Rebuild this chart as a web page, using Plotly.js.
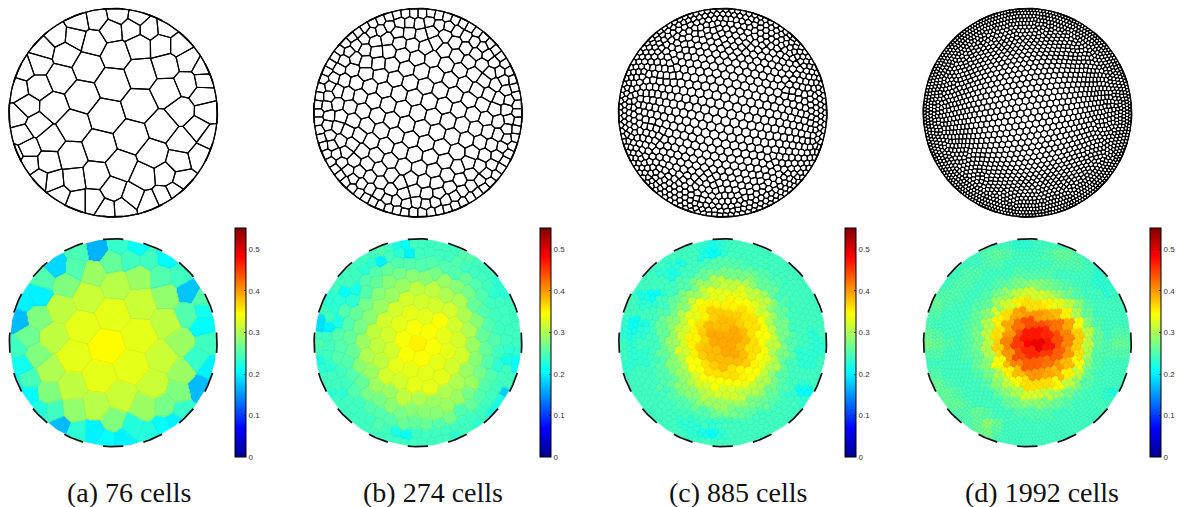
<!DOCTYPE html>
<html><head><meta charset="utf-8">
<script src="https://cdn.plot.ly/plotly-3.0.1.min.js"></script>
<style>html,body{margin:0;padding:0;background:#fff}</style></head>
<body><div id="chart" style="width:1177px;height:507px"></div>
<script>
const cellsAx=[262,338,425,245,420,320,218,395,298,490,462,545,503,180,158,348,280,197,485,500,418,225,170,128,115,72,115,52,80,50,110,65,148,85,145,85,213,118,162,220,288,365,432,497,537,547,600,548,595,628,622,610,563,612,610,565,540,500,447,395,415,335,355,290,235,340,398,448,493,525,370,318,282,230,178,42];
const cellsAy=[198,250,218,288,315,347,378,412,440,380,465,333,275,232,320,160,125,160,135,195,135,110,105,145,190,205,260,270,318,348,375,405,420,445,487,493,470,540,545,540,530,500,530,525,485,540,470,425,385,410,335,285,250,240,205,180,135,80,85,85,50,90,42,55,65,570,590,610,590,575,625,628,605,605,585,465];
const cellsAv=[.315,.33,.315,.33,.33,.345,.33,.33,.33,.315,.315,.29,.31,.31,.31,.305,.29,.275,.25,.285,.29,.25,.185,.25,.20,.20,.275,.17,.265,.24,.275,.215,.30,.245,.275,.205,.31,.225,.24,.285,.305,.315,.29,.27,.275,.235,.17,.29,.235,.20,.24,.205,.25,.215,.25,.175,.24,.205,.24,.24,.21,.26,.235,.165,.245,.275,.225,.225,.205,.20,.20,.21,.20,.23,.17,.21];
// Panels (b)-(d): the individual cells are too small to read one by one, so their POSITIONS ARE GENERATED,
// not read: seedsLaid() and relax() compute them from these estimates of the layout:
// outer rings (radius px, cells, offset deg), a hexagonal core, and the cell size seen at each radius.
// The cell totals match the captions; individual cells do not line up with the reference.
const ringsBr=[99,90];
const ringsBn=[74,58];
const ringsBp=[0,2];
const coreB={tilt:-15,radius:82,grade:0.3};
const sizeB=[17,15.5,12,8];
const ringsCr=[100.5,95.5,90.5,85];
const ringsCn=[110,105,98,90];
const ringsCp=[0,1,0,1];
const coreC={tilt:-10,radius:79,grade:0.4};
const sizeC=[10.5,9.5,6.2,3.3];
const ringsDr=[101.5,98.5,95,91.5,88];
const ringsDn=[200,190,180,170,160];
const ringsDp=[0,0.5,0,0.5,0];
const coreD={tilt:8,radius:84,grade:0.44};
const sizeD=[8,6.5,3.8,2];
const sizeRadii=[0,50,80,104];
const gridB=[
[24,24,24,24,24,24,24,24,22,21,24,24,24,24,24,24,24,24,24,24,24],
[24,24,24,24,24,24,25,24,23,20,24,24,24,24,24,25,24,24,24,24,24],
[24,24,24,24,24,23,20,24,25,25,25,25,25,25,25,24,24,24,24,24,24],
[24,24,24,24,24,23,25,26,27,28,28,28,27,26,25,25,24,24,24,24,24],
[24,24,24,24,24,25,26,28,29,29,29,29,29,29,28,26,25,24,23,24,24],
[24,23,22,21,22,25,28,29,30,31,31,31,31,30,29,27,25,24,23,23,24],
[24,23,23,23,25,27,29,30,31,32,32,32,32,31,30,29,26,24,24,24,24],
[24,24,24,25,26,28,30,31,32,33,33,33,32,32,31,30,27,25,24,24,24],
[19,20,22,25,27,29,30,32,33,34,34,34,34,33,32,30,28,25,24,24,24],
[24,24,25,26,28,30,31,32,34,34,34,34,34,33,32,30,28,26,24,24,24],
[25,24,25,27,29,30,31,33,34,35,35,35,34,33,32,31,29,26,25,24,24],
[24,24,25,26,28,30,31,32,34,34,35,34,34,33,32,30,28,26,24,23,23],
[22,23,24,25,28,29,31,32,33,34,34,34,33,32,31,30,28,25,23,22,21],
[23,24,24,25,26,29,30,32,33,33,33,33,33,32,31,29,27,25,24,24,24],
[24,24,24,24,26,28,29,31,32,32,33,33,32,31,30,29,27,25,24,24,24],
[24,23,23,24,25,27,28,29,30,31,31,31,31,30,29,27,25,24,20,18,24],
[24,24,24,24,24,25,27,28,29,29,30,30,29,29,28,26,24,24,22,24,24],
[24,24,24,24,24,24,25,26,27,28,28,28,28,27,25,24,24,22,24,24,24],
[24,24,24,24,24,24,25,25,25,26,26,26,25,25,24,24,23,24,24,24,24],
[24,24,24,24,24,24,24,24,22,21,24,24,24,24,23,24,24,24,24,24,24],
[24,24,24,24,24,24,24,24,24,24,24,24,24,24,24,24,24,24,24,24,24]];
const gridC=[
[24,24,24,24,24,24,24,24,23,22,23,24,24,24,24,24,24,24,24,24,24],
[24,24,24,24,24,24,24,24,22,21,23,24,24,24,24,24,24,24,24,24,24],
[24,24,24,24,24,23,22,24,24,25,25,25,25,24,24,24,24,24,24,24,24],
[24,24,24,24,23,22,24,24,26,27,27,27,27,26,25,24,24,24,24,24,24],
[24,24,24,24,24,24,25,27,29,30,31,31,30,28,26,25,24,24,24,24,24],
[24,24,22,21,23,24,27,29,31,33,33,33,33,31,29,26,24,24,24,24,24],
[24,24,23,23,24,26,28,31,34,35,35,35,34,33,31,28,25,24,24,24,24],
[24,24,24,24,25,27,30,33,35,37,37,37,36,35,32,29,26,24,24,24,24],
[23,21,22,24,26,28,31,34,36,38,38,38,37,36,34,30,27,24,24,24,24],
[23,22,23,24,26,29,32,35,37,39,39,39,38,36,34,31,27,25,24,23,24],
[24,23,24,24,26,29,32,35,37,39,39,39,38,36,34,31,27,25,24,23,23],
[24,23,23,24,26,28,32,35,37,38,39,39,38,36,34,30,27,25,23,23,23],
[23,23,23,24,25,28,30,34,36,37,38,38,37,35,33,30,26,24,23,23,24],
[23,24,24,24,25,27,29,32,34,36,36,36,35,34,31,28,25,24,24,24,24],
[24,24,24,24,25,26,28,30,32,34,34,34,33,31,30,27,25,24,23,24,24],
[24,24,24,24,24,25,27,28,30,31,32,32,31,30,28,26,24,23,21,21,24],
[24,24,24,24,24,24,25,26,28,29,29,29,28,27,26,25,24,24,23,24,24],
[24,24,24,24,24,24,24,24,25,26,27,27,26,25,24,24,24,24,24,24,24],
[24,24,24,24,24,24,23,23,24,23,24,24,24,24,24,24,24,24,24,24,24],
[24,24,24,24,24,24,24,23,22,21,23,24,24,24,24,24,24,24,24,24,24],
[24,24,24,24,24,24,24,24,24,24,24,24,24,24,24,24,24,24,24,24,24]];
const gridD=[
[24,24,24,24,24,24,24,24,24,23,23,24,24,24,24,24,24,24,24,24,24],
[24,24,24,24,24,24,25,26,25,24,24,24,25,26,26,25,24,24,24,24,24],
[24,24,24,24,24,24,25,25,24,24,24,24,24,25,25,25,24,24,24,24,24],
[24,24,24,24,25,25,24,24,24,25,25,25,25,24,24,24,24,23,24,24,24],
[24,24,24,25,25,24,24,25,26,27,28,28,27,26,25,24,24,23,23,24,24],
[24,25,25,25,24,24,25,27,29,31,32,32,31,29,27,25,24,24,23,24,24],
[25,26,25,24,24,25,26,29,32,35,36,36,35,33,31,28,25,24,24,24,24],
[25,25,24,24,24,26,28,32,36,39,40,40,39,38,35,30,26,24,24,24,24],
[25,24,24,24,25,26,30,35,39,42,44,44,43,42,39,34,28,25,24,24,24],
[26,25,24,24,25,27,31,36,40,44,47,47,46,44,41,37,31,26,24,25,25],
[27,26,25,24,25,27,31,37,41,45,48,49,47,44,41,37,31,26,25,26,26],
[25,25,24,24,25,26,30,36,40,44,46,46,45,43,40,36,30,25,25,25,25],
[24,24,24,24,24,26,28,34,38,41,43,43,42,40,38,34,28,25,24,24,24],
[25,25,24,24,24,25,27,30,35,38,40,40,39,38,35,31,26,24,24,24,24],
[26,26,25,24,24,24,25,28,31,34,36,36,36,34,31,28,25,24,24,24,24],
[24,26,26,25,24,24,24,26,28,30,32,32,31,29,27,25,24,24,23,22,24],
[24,24,26,26,25,24,24,24,26,27,28,28,27,26,25,24,24,24,24,24,24],
[24,24,24,25,25,26,25,24,24,25,25,25,25,24,24,24,24,24,25,24,24],
[24,24,24,24,25,26,28,26,24,24,24,24,24,24,24,24,24,24,24,24,24],
[24,24,24,24,25,26,27,25,24,24,24,24,24,24,24,24,24,24,24,24,24],
[24,24,24,24,24,24,24,24,24,24,24,24,24,24,24,24,24,24,24,24,24]];
const cellCounts=[76,274,885,1992];
const captions=["(a) 76 cells","(b) 274 cells","(c) 885 cells","(d) 1992 cells"];
const captionX=[129,433,739,1043];
const panelX=[113.3,418.3,723.3,1028.3];
const colorbarX=[235,540,845,1150];
const tickVals=[0,0.1,0.2,0.3,0.4,0.5];
const dashAngles=[0,22.5,45,67.5,90,112.5,135,157.5,180,202.5,225,247.5,270,292.5,315,337.5];
const jet=[[0,'#000090'],[0.125,'#0000ff'],[0.375,'#00ffff'],[0.625,'#ffff00'],[0.875,'#ff0000'],[1,'#800000']];

const R=104.2, HALF=112, W=1177, H=507, TOPY=112.7, BOTY=342.7;
function seedsFromA(){return cellsAx.map((X,i)=>({x:(X-340)/3,y:(338-cellsAy[i])/3,v:cellsAv[i]}));}
function sizeAt(r,sizes){
  for(let i=1;i<sizeRadii.length;i++) if(r<=sizeRadii[i]){const t=(r-sizeRadii[i-1])/(sizeRadii[i]-sizeRadii[i-1]);return sizes[i-1]+t*(sizes[i]-sizes[i-1]);}
  return sizes[sizes.length-1];
}
// Relax the starting layout so that cells settle at the sizes seen in the picture
function relax(pts,sizes,step,bin,iters){
  const samples=[];
  for(let y=-R+step/2;y<R;y+=step)for(let x=-R+step/2;x<R;x+=step){const r=Math.hypot(x,y);if(r<R){const h=sizeAt(r,sizes);samples.push([x,y,1/(h*h*h*h)]);}}
  const nb=Math.ceil(2*R/bin)+2, key=(v)=>Math.max(0,Math.min(nb-1,Math.floor((v+R)/bin)));
  for(let it=0;it<iters;it++){
    const bins=new Array(nb*nb);for(let i=0;i<bins.length;i++)bins[i]=[];
    pts.forEach((p,i)=>bins[key(p[1])*nb+key(p[0])].push(i));
    const sx=new Float64Array(pts.length),sy=new Float64Array(pts.length),sw=new Float64Array(pts.length);
    for(const [x,y,w] of samples){
      const cx=key(x),cy=key(y);let best=1e18,bi=-1;
      for(let b=Math.max(0,cy-1);b<=Math.min(nb-1,cy+1);b++)for(let a=Math.max(0,cx-1);a<=Math.min(nb-1,cx+1);a++){
        const list=bins[b*nb+a];
        for(let k=0;k<list.length;k++){const p=pts[list[k]],dx=p[0]-x,dy=p[1]-y,d=dx*dx+dy*dy;if(d<best){best=d;bi=list[k];}}
      }
      if(bi>=0){sx[bi]+=w*x;sy[bi]+=w*y;sw[bi]+=w;}
    }
    pts.forEach((p,i)=>{if(sw[i]>0){p[0]=sx[i]/sw[i];p[1]=sy[i]/sw[i];}});
  }
  return pts;
}
function seedsLaid(rs,ns,ps,core,total,grid,sizes,step,bin){
  const pts=[];
  rs.forEach((r,k)=>{for(let j=0;j<ns[k];j++){const a=(ps[k]+360*j/ns[k])*Math.PI/180;pts.push([r*Math.cos(a),r*Math.sin(a)]);}});
  const need=total-pts.length, lat=[], S=Math.ceil(Math.sqrt(need))+4, tilt=core.tilt*Math.PI/180;
  for(let i=-S;i<=S;i++)for(let j=-S;j<=S;j++){const x=i+j/2,y=j*Math.sqrt(3)/2;lat.push({x,y,d:Math.hypot(x,y)});}
  lat.sort((a,b)=>a.d-b.d);
  const used=lat.slice(0,need), dmax=used[used.length-1].d;
  for(const p of used){
    const u=p.d/dmax, r=core.radius*(u+core.grade*Math.sin(Math.PI*u)/Math.PI), a=Math.atan2(p.y,p.x)+tilt;
    pts.push([r*Math.cos(a),r*Math.sin(a)]);
  }
  relax(pts,sizes,step,bin,30);
  return pts.map(([x,y])=>{
    const col=Math.max(0,Math.min(20,Math.round((x+100)/10))), row=Math.max(0,Math.min(20,Math.round((100-y)/10)));
    return {x,y,v:grid[row][col]/100};
  });
}
function cellPolys(seeds,rad){
  const base=[];for(let i=0;i<120;i++){const a=i*Math.PI/60;base.push([rad*Math.cos(a),rad*Math.sin(a)]);}
  return seeds.map((s,i)=>{
    const others=seeds.filter((_,j)=>j!==i).map(o=>({o,d:(o.x-s.x)**2+(o.y-s.y)**2})).sort((a,b)=>a.d-b.d);
    let poly=base;
    for(const {o,d} of others){
      let m=0;for(const p of poly){const q=(p[0]-s.x)**2+(p[1]-s.y)**2;if(q>m)m=q;}
      if(d>4*m)break;
      const mx=(s.x+o.x)/2,my=(s.y+o.y)/2,nx=o.x-s.x,ny=o.y-s.y,next=[];
      for(let k=0;k<poly.length;k++){
        const a=poly[k],b=poly[(k+1)%poly.length];
        const da=(a[0]-mx)*nx+(a[1]-my)*ny,db=(b[0]-mx)*nx+(b[1]-my)*ny;
        if(da<=0)next.push(a);
        if((da<0&&db>0)||(da>0&&db<0)){const t=da/(da-db);next.push([a[0]+t*(b[0]-a[0]),a[1]+t*(b[1]-a[1])]);}
      }
      poly=next;if(!poly.length)break;
    }
    return poly;
  });
}
function polyLines(polys){const x=[],y=[];for(const p of polys){if(!p.length)continue;for(const q of p){x.push(q[0]);y.push(q[1]);}x.push(p[0][0],null);y.push(p[0][1],null);}return{x,y};}
function fieldFrom(seeds){
  const ax=[];for(let v=-108;v<=108;v+=1)ax.push(v);
  const z=ax.map(y=>ax.map(x=>{
    if(x*x+y*y>108*108)return null;
    let best=1e18,val=null;
    for(let i=0;i<seeds.length;i++){const s=seeds[i],dx=s.x-x,dy=s.y-y,d=dx*dx+dy*dy;if(d<best){best=d;val=s.v;}}
    return val;}));
  return{ax,z};
}
function arcs(r){
  const x=[],y=[];
  for(const d of dashAngles){for(let t=-5.6;t<=5.6;t+=1.4){const a=(d+t)*Math.PI/180;x.push(r*Math.sin(a));y.push(r*Math.cos(a));}x.push(null);y.push(null);}
  return{x,y};
}
function ring(r){const x=[],y=[];for(let i=0;i<=180;i++){const a=i*Math.PI/90;x.push(r*Math.cos(a));y.push(r*Math.sin(a));}return{x,y};}

const allSeeds=[seedsFromA(),
  seedsLaid(ringsBr,ringsBn,ringsBp,coreB,cellCounts[1],gridB,sizeB,1,18),
  seedsLaid(ringsCr,ringsCn,ringsCp,coreC,cellCounts[2],gridC,sizeC,0.7,11),
  seedsLaid(ringsDr,ringsDn,ringsDp,coreD,cellCounts[3],gridD,sizeD,0.5,8.5)];
const widths=[1.15,1.15,1.15,1.05];
const data=[],layout={width:W,height:H,margin:{l:0,r:0,t:0,b:0},paper_bgcolor:'#fff',plot_bgcolor:'#fff',showlegend:false,annotations:[]};
function addAxes(n,cx,cy){
  const hide={visible:false,fixedrange:true};
  layout['xaxis'+n]={...hide,range:[-HALF,HALF],domain:[(cx-HALF)/W,(cx+HALF)/W],anchor:'y'+n};
  layout['yaxis'+n]={...hide,range:[-HALF,HALF],domain:[1-(cy+HALF)/H,1-(cy-HALF)/H],anchor:'x'+n};
}
allSeeds.forEach((seeds,p)=>{
  const t=2*p+1,b=2*p+2,xt='x'+t,yt='y'+t,xb='x'+b,yb='y'+b;
  addAxes(t,panelX[p],TOPY);addAxes(b,panelX[p],BOTY);
  const polys=cellPolys(seeds,R), lines=polyLines(polys);
  data.push({type:'scatter',mode:'lines',x:lines.x,y:lines.y,xaxis:xt,yaxis:yt,line:{color:'#000',width:widths[p]},hoverinfo:'skip'});
  const outline=ring(R);
  data.push({type:'scatter',mode:'lines',x:outline.x,y:outline.y,xaxis:xt,yaxis:yt,line:{color:'#000',width:1.2},hoverinfo:'skip'});
  const da=arcs(R);
  data.push({type:'scatter',mode:'lines',x:da.x,y:da.y,xaxis:xt,yaxis:yt,line:{color:'#000',width:1.7},hoverinfo:'skip'});
  const f=fieldFrom(seeds);
  data.push({type:'heatmap',x:f.ax,y:f.ax,z:f.z,xaxis:xb,yaxis:yb,zmin:0,zmax:0.55,colorscale:jet,zsmooth:'best',hoverinfo:'skip',
    colorbar:{x:colorbarX[p]/W,xanchor:'left',y:1-457.3/H,yanchor:'bottom',len:229,lenmode:'pixels',thickness:10.5,thicknessmode:'pixels',xpad:0,ypad:0,
      outlinecolor:'#000',outlinewidth:1,tickvals:tickVals,ticktext:['0','0.1','0.2','0.3','0.4','0.5'],ticks:'inside',ticklen:2,tickcolor:'#000',tickwidth:0.7,
      tickfont:{family:'Liberation Sans',size:8,color:'#333'}}});
  data.push({type:'scatter',mode:'lines',x:lines.x,y:lines.y,xaxis:xb,yaxis:yb,line:{color:'rgba(80,80,80,0.08)',width:0.5},hoverinfo:'skip'});
  const mask=ring(R-0.6+4.2);
  data.push({type:'scatter',mode:'lines',x:mask.x,y:mask.y,xaxis:xb,yaxis:yb,line:{color:'#fff',width:8.5},hoverinfo:'skip'});
  const db=arcs(103.9);
  data.push({type:'scatter',mode:'lines',x:db.x,y:db.y,xaxis:xb,yaxis:yb,line:{color:'#111',width:1.7},hoverinfo:'skip'});
  layout.annotations.push({xref:'paper',yref:'paper',x:captionX[p]/W,y:1-492/H,xanchor:'center',yanchor:'middle',showarrow:false,text:captions[p],
    font:{family:'Liberation Serif',size:28,color:'#111'}});
});
Plotly.newPlot('chart',data,layout,{displayModeBar:false,staticPlot:true});
</script></body></html>
